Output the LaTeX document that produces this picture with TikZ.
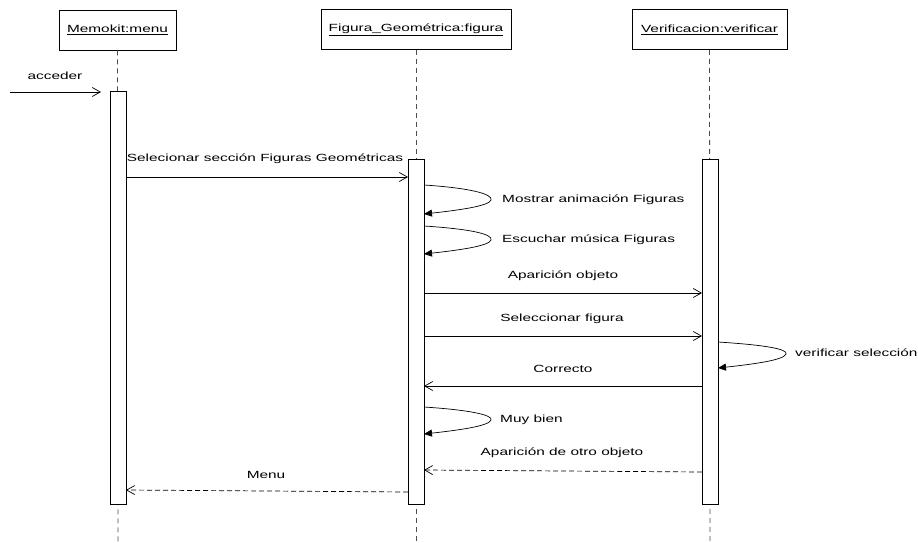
\documentclass[tikz,border=0pt]{standalone}
\usepackage{fontspec}
\setmainfont{Liberation Sans}[FakeStretch=1.48]
\usetikzlibrary{arrows.meta}
\begin{document}
\begin{tikzpicture}[x=1pt,y=-1pt,
  every node/.style={font=\fontsize{10.4}{12}\selectfont, inner sep=0pt},
  objbox/.style={draw, line width=0.8pt, minimum width=#1, minimum height=40pt, fill=white},
  actbox/.style={draw, line width=0.8pt, fill=white},
  lifeline/.style={draw=black!70, dash pattern=on 5pt off 4pt, line width=0.8pt},
  msg/.style={line width=0.7pt, -{Straight Barb[length=8pt,width=9pt]}},
  ret/.style={msg, dash pattern=on 5pt off 3pt},
  selfmsg/.style={line width=0.7pt, -{Triangle[length=8pt,width=7pt]}},
  lbl/.style={anchor=center},
  lblw/.style={anchor=west}
]
\useasboundingbox (0,0) rectangle (918,543);

% object boxes
\node[objbox=117pt] (m) at (117.5,30) {\underline{Memokit:menu}};
\node[objbox=190pt] (f) at (416,29.5) {\underline{Figura\_Geométrica:figura}};
\node[objbox=155pt] (v) at (709.5,29.5) {\underline{Verificacion:verificar}};

% lifeline ends
\coordinate (mend) at (118,543);
\coordinate (fend) at (416,543);
\coordinate (vend) at (710,543);
\draw[lifeline] (m.south) -- (mend);
\draw[lifeline] (f.south) -- (fend);
\draw[lifeline] (v.south) -- (vend);

% activations
\path[actbox] (110,91) rectangle (126,504);
\path[actbox] (408,159) rectangle (424,504);
\path[actbox] (702,159) rectangle (718,504);

% acceder
\coordinate (src) at (10,92);
\coordinate (acc) at (101,92);
\draw[msg] (src) -- (acc);
\node[lbl] (lacc) at (55,76) {acceder};

% message 1
\coordinate (m1a) at (126,177);
\coordinate (m1b) at (408,177);
\draw[msg] (m1a) -- (m1b);
\node[lbl] (l1) at (265,159) {Selecionar sección Figuras Geométricas};

% self loops on figura
\coordinate (s1a) at (424,185);
\coordinate (s1t) at (491,200);
\coordinate (s1b) at (424,214);
\draw[selfmsg] (s1a) .. controls (470,188) and (493,194) .. (s1t) .. controls (489,206) and (460,210) .. (s1b);
\node[lblw] (l2) at (502,200) {Mostrar animación Figuras};

\coordinate (s2a) at (424,226);
\coordinate (s2t) at (491,240);
\coordinate (s2b) at (424,254);
\draw[selfmsg] (s2a) .. controls (470,229) and (493,234) .. (s2t) .. controls (489,246) and (460,250) .. (s2b);
\node[lblw] (l3) at (502,240) {Escuchar música Figuras};

% Aparicion objeto
\coordinate (m4a) at (424,293);
\coordinate (m4b) at (702,293);
\draw[msg] (m4a) -- (m4b);
\node[lbl] (l4) at (563,276) {Aparición objeto};

% Seleccionar figura
\coordinate (m5a) at (424,336);
\coordinate (m5b) at (702,336);
\draw[msg] (m5a) -- (m5b);
\node[lbl] (l5) at (562,319) {Seleccionar figura};

% verificar seleccion
\coordinate (s3a) at (718,342);
\coordinate (s3t) at (786,354);
\coordinate (s3b) at (718,368);
\draw[selfmsg] (s3a) .. controls (765,345) and (788,349) .. (s3t) .. controls (784,360) and (755,364) .. (s3b);
\node[lblw] (l6) at (795,353) {verificar selección};

% Correcto
\coordinate (m7a) at (702,386);
\coordinate (m7b) at (424,386);
\draw[msg] (m7a) -- (m7b);
\node[lbl] (l7) at (563,369) {Correcto};

% Muy bien
\coordinate (s4a) at (424,407);
\coordinate (s4t) at (491,420);
\coordinate (s4b) at (424,434);
\draw[selfmsg] (s4a) .. controls (470,410) and (493,415) .. (s4t) .. controls (489,426) and (460,430) .. (s4b);
\node[lblw] (l8) at (500,420) {Muy bien};

% Aparicion de otro objeto
\coordinate (m9a) at (702,472);
\coordinate (m9b) at (424,470);
\draw[ret] (m9a) -- (m9b);
\node[lbl] (l9) at (562,453) {Aparición de otro objeto};

% Menu
\coordinate (m10a) at (408,492);
\coordinate (m10b) at (126,490);
\draw[ret] (m10a) -- (m10b);
\node[lbl] (l10) at (266,475) {Menu};
\end{tikzpicture}
\end{document}
